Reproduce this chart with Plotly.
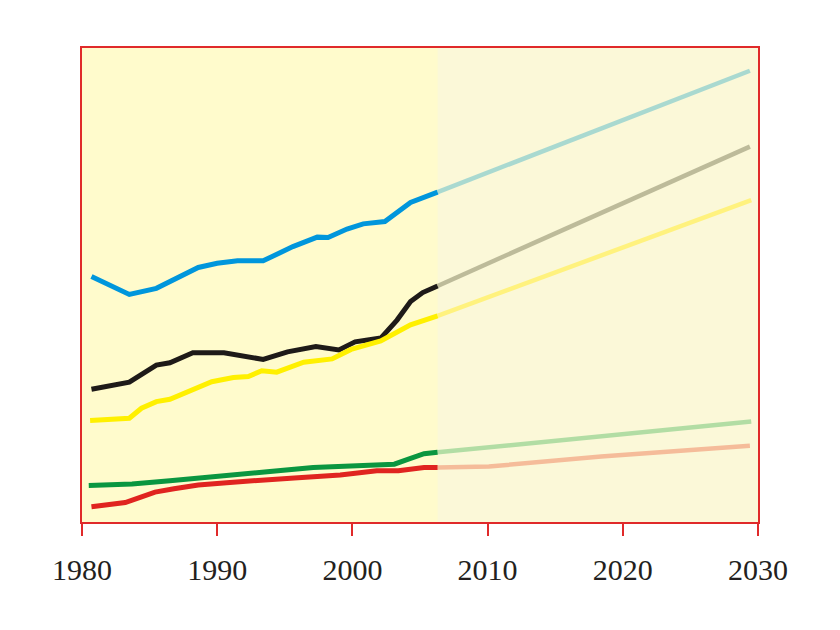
import plotly.graph_objects as go

# ---- data (y on a 0-100 relative scale) ----
blue_years = [1980.7, 1983.5, 1985.5, 1988.6, 1990.0, 1991.5, 1993.4, 1995.6, 1997.4, 1998.2, 1999.6, 2000.8, 2002.4, 2004.3, 2006.3]
blue_vals = [51.8, 48.0, 49.3, 53.7, 54.6, 55.1, 55.1, 58.1, 60.1, 60.0, 61.8, 62.9, 63.4, 67.4, 69.6]
blue_proj_years = [2006.3, 2029.4]
blue_proj_vals = [69.6, 95.2]

black_years = [1980.7, 1983.5, 1985.5, 1986.5, 1988.2, 1990.5, 1993.4, 1995.2, 1997.3, 1999.0, 2000.2, 2002.1, 2003.3, 2004.3, 2005.2, 2006.3]
black_vals = [28.0, 29.5, 33.1, 33.6, 35.7, 35.7, 34.3, 35.9, 37.0, 36.3, 38.0, 38.8, 42.6, 46.5, 48.4, 49.8]
black_proj_years = [2006.3, 2029.4]
black_proj_vals = [49.8, 79.2]

yellow_years = [1980.6, 1983.5, 1984.4, 1985.5, 1986.5, 1988.2, 1989.6, 1991.2, 1992.3, 1993.3, 1994.4, 1996.4, 1998.5, 1999.9, 2002.1, 2004.3, 2006.3]
yellow_vals = [21.4, 21.9, 24.0, 25.4, 25.9, 28.0, 29.6, 30.5, 30.7, 31.9, 31.6, 33.7, 34.4, 36.4, 38.2, 41.6, 43.5]
yellow_proj_years = [2006.3, 2029.5]
yellow_proj_vals = [43.5, 67.9]

green_years = [1980.5, 1983.7, 1986.5, 1990.2, 1993.7, 1997.1, 2000.1, 2003.1, 2004.2, 2005.3, 2006.3]
green_vals = [7.7, 8.0, 8.7, 9.8, 10.6, 11.5, 11.9, 12.2, 13.3, 14.4, 14.7]
green_proj_years = [2006.3, 2029.5]
green_proj_vals = [14.7, 21.2]

red_years = [1980.7, 1983.2, 1984.3, 1985.4, 1986.8, 1988.6, 1990.7, 1993.2, 1995.7, 1999.1, 2000.1, 2001.8, 2003.4, 2005.3, 2006.3]
red_vals = [3.2, 4.1, 5.2, 6.3, 7.0, 7.8, 8.3, 8.9, 9.3, 9.9, 10.3, 10.8, 10.8, 11.5, 11.5]
red_proj_years = [2006.3, 2010.1, 2018.4, 2025.8, 2029.4]
red_proj_vals = [11.5, 11.7, 13.8, 15.5, 16.1]

tick_years = [1980, 1990, 2000, 2010, 2020, 2030]
tick_labels = ["1980", "1990", "2000", "2010", "2020", "2030"]

observed_end = 2006.3

series = [
    (blue_years, blue_vals, blue_proj_years, blue_proj_vals, "#0096DC", "#A9D9D0"),
    (black_years, black_vals, black_proj_years, black_proj_vals, "#1E1A18", "#BDBB9A"),
    (yellow_years, yellow_vals, yellow_proj_years, yellow_proj_vals, "#FFF000", "#FFF27E"),
    (green_years, green_vals, green_proj_years, green_proj_vals, "#0A9640", "#B2DDA4"),
    (red_years, red_vals, red_proj_years, red_proj_vals, "#E02420", "#F5BC9A"),
]

fig = go.Figure()
for yrs, vals, pyrs, pvals, col, pcol in series:
    fig.add_trace(go.Scatter(x=pyrs, y=pvals, mode="lines",
                             line=dict(color=pcol, width=4.5), hoverinfo="skip",
                             showlegend=False))
    fig.add_trace(go.Scatter(x=yrs, y=vals, mode="lines",
                             line=dict(color=col, width=5), showlegend=False))

fig.add_shape(type="rect", xref="x", yref="paper", x0=1980, x1=observed_end,
              y0=0, y1=1, fillcolor="#FFFBCC", line_width=0, layer="below")

fig.update_layout(
    width=840, height=630,
    margin=dict(l=74, r=90, t=40, b=116),
    paper_bgcolor="white",
    plot_bgcolor="#FBF8D8",
    showlegend=False,
)
fig.update_xaxes(
    range=[1980, 2030], tickmode="array", tickvals=tick_years, ticktext=tick_labels,
    ticks="outside", ticklen=12, tickwidth=2, tickcolor="#E02A2A",
    showline=True, linecolor="#E02A2A", linewidth=2, mirror=True,
    showgrid=False, zeroline=False, ticklabelstandoff=8,
    tickfont=dict(family="Liberation Serif, Times New Roman, serif", size=30, color="#231F20"),
)
fig.update_yaxes(
    range=[0, 100], showticklabels=False, ticks="",
    showline=True, linecolor="#E02A2A", linewidth=2, mirror=True,
    showgrid=False, zeroline=False,
)

fig.write_html("out.html")
